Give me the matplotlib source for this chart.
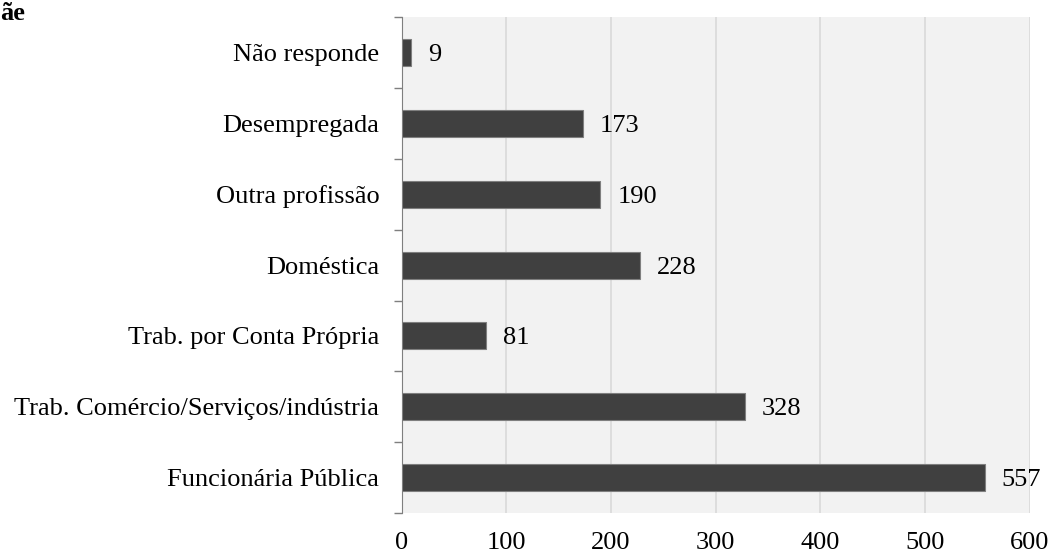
import matplotlib.pyplot as plt
import numpy as np

plt.rcParams['font.family'] = ['Liberation Serif', 'DejaVu Serif']

# dados
categorias = ['Funcionária Pública', 'Trab. Comércio/Serviços/indústria', 'Trab. por Conta Própria',
              'Doméstica', 'Outra profissão', 'Desempregada', 'Não responde']
valores = [557, 328, 81, 228, 190, 173, 9]
xticks = [0, 100, 200, 300, 400, 500, 600]

fig = plt.figure(figsize=(10.54, 5.56), dpi=100)
fig.patch.set_facecolor('white')
ax = fig.add_axes([0.381, 0.0773, 0.596, 0.8917])
ax.set_facecolor('#f2f2f2')

y = np.arange(len(categorias))
ax.barh(y, valores, height=0.38, color='#404040', edgecolor='#7f7f7f', linewidth=0.8, zorder=3)

for yi, v in zip(y, valores):
    ax.text(v + 16, yi, str(v), va='center_baseline', ha='left', fontsize=19, color='black')

ax.set_xlim(0, 600)
ax.set_ylim(-0.5, len(categorias) - 0.5)
ax.set_xticks(xticks)
ax.set_xticklabels([str(t) for t in xticks], fontsize=19)
ax.set_yticks(y)
ax.set_yticklabels(categorias, fontsize=19)
ax.tick_params(axis='x', length=0, pad=14)
ax.tick_params(axis='y', which='major', length=0, pad=16)
ax.set_yticks(np.arange(-0.5, len(categorias), 1), minor=True)
ax.tick_params(axis='y', which='minor', length=6, color='#7f7f7f', width=1)

ax.grid(axis='x', color='#d9d9d9', linewidth=1.2, zorder=0)
for s in ['top', 'right', 'bottom']:
    ax.spines[s].set_visible(False)
ax.spines['left'].set_color('#7f7f7f')

fig.text(0.0, 0.964, 'ãe', fontsize=19, fontweight='bold', ha='left', va='baseline')

plt.savefig('out.png', dpi=100)
